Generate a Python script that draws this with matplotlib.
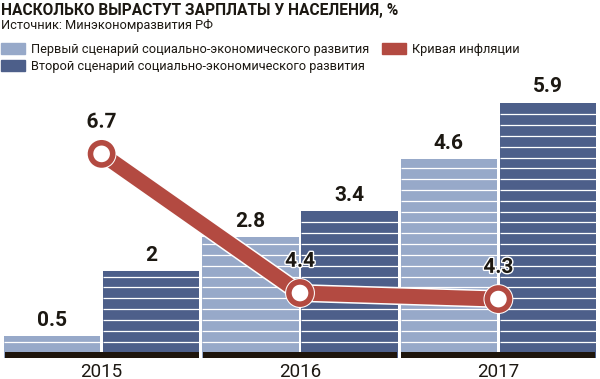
import matplotlib
matplotlib.use("Agg")
import matplotlib.pyplot as plt
import matplotlib.patheffects as pe
from matplotlib.patches import Patch
import numpy as np

# data
years = ["2015", "2016", "2017"]
scenario1 = [0.5, 2.8, 4.6]
scenario2 = [2, 3.4, 5.9]
inflation = [6.7, 4.4, 4.3]

title = "НАСКОЛЬКО ВЫРАСТУТ ЗАРПЛАТЫ У НАСЕЛЕНИЯ, %"
source = "Источник: Минэкономразвития РФ"
legend_labels = ["Первый сценарий социально-экономического развития",
                 "Второй сценарий социально-экономического развития",
                 "Кривая инфляции"]

light = "#97a9c9"
dark = "#4d5f8a"
red = "#b34a41"
ink = "#1c1812"

plt.rcParams["font.family"] = ["Roboto", "DejaVu Sans"]

W, H = 600, 379
fig = plt.figure(figsize=(6, 3.79), dpi=100)

# axes placement in pixels
left, right, top, bottom = 2.4, 597.6, 80, 360
pos = [left / W, (H - bottom) / H, (right - left) / W, (bottom - top) / H]
ax = fig.add_axes(pos)
ax2 = fig.add_axes(pos, sharex=ax)
ax2.patch.set_visible(False)

x = np.arange(len(years))
x1 = 2 * x
x2 = 2 * x + 1
width = 0.97

ax.bar(x1, scenario1, width=width, color=light, zorder=2)
ax.bar(x2, scenario2, width=width, color=dark, zorder=2)

# white horizontal stripes inside the bars
for xs, vals in [(x1, scenario1), (x2, scenario2)]:
    for xi, v in zip(xs, vals):
        ys = np.arange(0.38, v - 0.05, 0.25)
        ax.hlines(ys, xi - width / 2, xi + width / 2, color="white", lw=0.9, zorder=3)
    for xi, v in zip(xs, vals):
        ax.annotate(f"{v:g}", (xi, v), xytext=(0, 4.5), textcoords="offset points",
                    ha="center", va="bottom", fontsize=15, fontweight="bold", color=ink)

# dark base strip per year group
ax.bar(2 * x + 0.5, 0.14, width=1.955, color="#1e150c", zorder=4)

ax.set_xlim(-0.5, 5.5)
ax.set_ylim(-0.046, 6.42)
ax.set_xticks(2 * x + 0.5)
ax.set_xticklabels(years, fontsize=13.5, color=ink)
ax.tick_params(axis="x", length=0, pad=2)
ax.set_yticks([])
for s in ax.spines.values():
    s.set_visible(False)

# inflation line
ax2.plot(2 * x + 0.5, inflation, color=red, lw=10.8, solid_capstyle="butt", zorder=5,
         path_effects=[pe.Stroke(linewidth=13, foreground="white"), pe.Normal()])
ax2.plot(2 * x + 0.5, inflation, ls="none", marker="o", ms=16, mew=4, mfc="white",
         mec=red, zorder=6,
         path_effects=[pe.Stroke(linewidth=5.5, foreground="white"), pe.Normal()])
for xi, v in zip(2 * x + 0.5, inflation):
    ax2.annotate(f"{v:g}", (xi, v), xytext=(0, 16), textcoords="offset points",
                 ha="center", va="bottom", fontsize=15, fontweight="bold", color=ink,
                 path_effects=[pe.withStroke(linewidth=2, foreground="white")], zorder=7)
ax2.set_ylim(3.293, 7.921)
ax2.set_yticks([])
ax2.tick_params(axis="x", length=0, labelbottom=False)
for s in ax2.spines.values():
    s.set_visible(False)

# header
fig.text(1 / W, 1 - 3 / H, title, fontsize=11.2, fontweight="bold", color=ink,
         ha="left", va="top")
fig.text(1 / W, 1 - 19 / H, source, fontsize=9.2, color=ink, ha="left", va="top")

handles = [Patch(color=light), Patch(color=dark), Patch(color=red)]
fig.legend(handles, legend_labels, ncol=2, loc="upper left",
           bbox_to_anchor=(0.5 / W, 1 - 43 / H), frameon=False, fontsize=9.2,
           handlelength=1.95, handleheight=1.0, handletextpad=0.4,
           columnspacing=1.0, labelspacing=0.3, borderpad=0, borderaxespad=0,
           labelcolor=ink)

fig.savefig("out.png", dpi=100)
